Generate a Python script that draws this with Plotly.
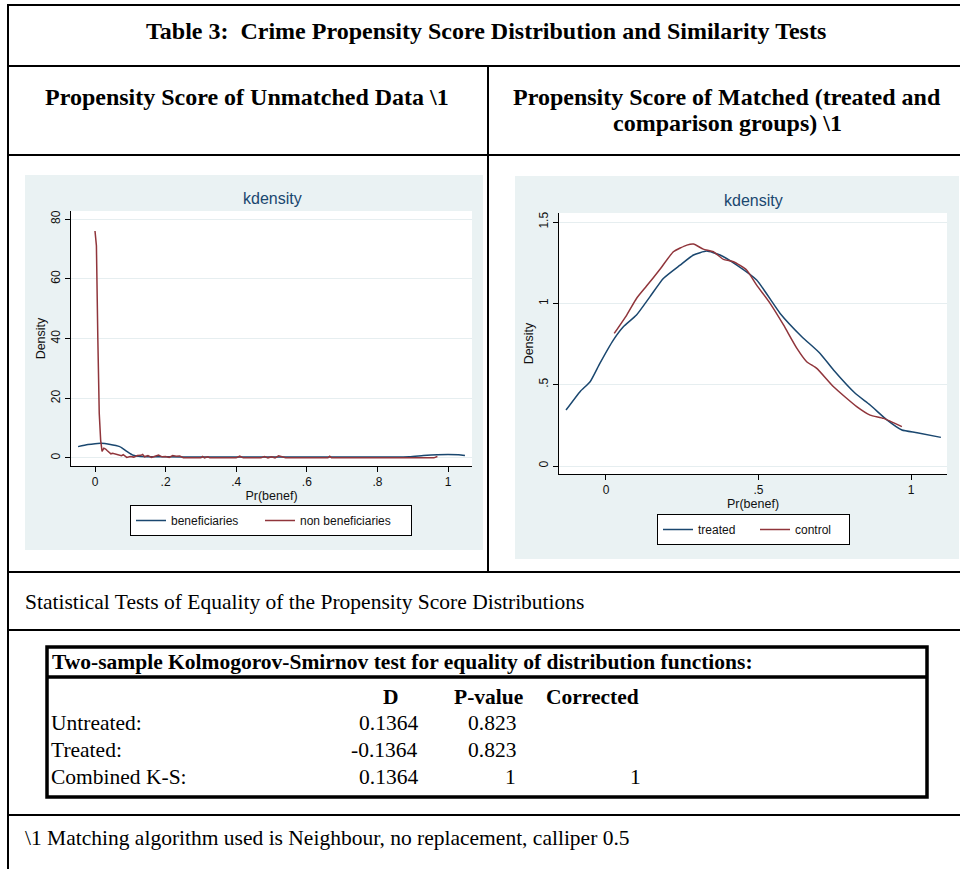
import plotly.graph_objects as go

W, H = 960, 869

# ---------------- data : unmatched sample (left panel) ----------------
benef_x = [-0.048, -0.02, 0.0, 0.017, 0.04, 0.07, 0.09, 0.108, 0.13, 0.2, 0.3, 0.4,
           0.5, 0.6, 0.7, 0.8, 0.89, 0.93, 0.97, 1.0, 1.03, 1.048]
benef_y = [3.8, 4.5, 4.8, 4.9, 4.6, 3.8, 2.2, 0.9, 0.5, 0.4, 0.35, 0.3,
           0.3, 0.3, 0.3, 0.3, 0.4, 0.8, 1.1, 1.2, 1.1, 0.8]

nonbenef_x = [0.0, 0.004, 0.008, 0.012, 0.016, 0.02, 0.025, 0.03, 0.035, 0.04, 0.045,
              0.05, 0.06, 0.07, 0.075, 0.08, 0.09, 0.1, 0.11, 0.12, 0.13, 0.135, 0.14,
              0.15, 0.16, 0.17, 0.18, 0.19, 0.2, 0.21, 0.22, 0.23, 0.24, 0.25, 0.3,
              0.305, 0.31, 0.32, 0.325, 0.4, 0.41, 0.42, 0.47, 0.48, 0.49, 0.5, 0.51,
              0.52, 0.53, 0.54, 0.66, 0.665, 0.67, 0.96, 0.97]
nonbenef_y = [76, 71, 40, 15, 6, 2.2, 3.3, 3.0, 2.4, 2.0, 1.4,
              1.6, 1.3, 1.2, 0.8, 1.1, 0.2, 0.5, 0.3, 0.8, 0.9, 1.2, 0.4,
              0.8, 0.2, 0.6, 1.0, 0.4, 0.5, 0.2, 0.8, 0.6, 0.7, 0.1, 0.05,
              0.5, 0.05, 0.4, 0.05, 0.05, 0.6, 0.05, 0.05, 0.5, 0.05, 0.4, 0.05,
              0.7, 0.5, 0.05, 0.05, 0.6, 0.05, 0.05, 0.5]

# ---------------- data : matched sample (right panel) ----------------
treated_x = [-0.131, -0.085, -0.052, -0.02, 0.024, 0.057, 0.1, 0.144, 0.188, 0.243,
             0.287, 0.33, 0.374, 0.429, 0.494, 0.571, 0.642, 0.702, 0.746, 0.817,
             0.866, 0.921, 0.970, 1.02, 1.098]
treated_y = [0.344, 0.457, 0.518, 0.631, 0.774, 0.856, 0.928, 1.04, 1.153, 1.235,
             1.297, 1.321, 1.297, 1.235, 1.143, 0.938, 0.795, 0.692, 0.59, 0.447,
             0.375, 0.283, 0.221, 0.205, 0.176]

control_x = [0.027, 0.068, 0.1, 0.133, 0.177, 0.221, 0.265, 0.287, 0.319, 0.352,
             0.385, 0.418, 0.461, 0.494, 0.538, 0.582, 0.626, 0.658, 0.691, 0.746,
             0.822, 0.866, 0.910, 0.97]
control_y = [0.815, 0.928, 1.03, 1.106, 1.209, 1.317, 1.358, 1.365, 1.333, 1.317,
             1.27, 1.256, 1.205, 1.112, 1.0, 0.867, 0.723, 0.641, 0.6, 0.487,
             0.365, 0.313, 0.293, 0.242]

# ---------------- tick labels ----------------
x1_ticks = [0, 0.2, 0.4, 0.6, 0.8, 1]
x1_labels = ['0', '.2', '.4', '.6', '.8', '1']
y1_ticks = [0, 20, 40, 60, 80]
y1_labels = ['0', '20', '40', '60', '80']
x2_ticks = [0, 0.5, 1]
x2_labels = ['0', '.5', '1']
y2_ticks = [0, 0.5, 1, 1.5]
y2_labels = ['0', '.5', '1', '1.5']

# ---------------- KS test table ----------------
ks_cols = ['D', 'P-value', 'Corrected']
ks_rows = ['Untreated:', 'Treated:', 'Combined K-S:']
ks_D = ['0.1364', '-0.1364', '0.1364']
ks_P = ['0.823', '0.823', '1']
ks_C = ['', '', '1']

# ---------------- styling ----------------
NAVY = '#1A476F'
MAROON = '#90353B'
PANEL = '#EAF2F3'
GRID = '#E6EEF0'
SANS = 'Liberation Sans, Arial, sans-serif'
SERIF = 'Liberation Serif, Times New Roman, serif'


def px(x):
    return x / W


def py(y):
    return 1 - y / H


fig = go.Figure()
fig.add_trace(go.Scatter(x=benef_x, y=benef_y, mode='lines', name='beneficiaries',
                         line=dict(color=NAVY, width=1.5, shape='spline', smoothing=0.6),
                         xaxis='x', yaxis='y', legend='legend', legendwidth=84))
fig.add_trace(go.Scatter(x=nonbenef_x, y=nonbenef_y, mode='lines', name='non beneficiaries',
                         line=dict(color=MAROON, width=1.5),
                         xaxis='x', yaxis='y', legend='legend', legendwidth=106))
fig.add_trace(go.Scatter(x=treated_x, y=treated_y, mode='lines', name='treated',
                         line=dict(color=NAVY, width=1.5, shape='spline', smoothing=0.5),
                         xaxis='x2', yaxis='y2', legend='legend2', legendwidth=52))
fig.add_trace(go.Scatter(x=control_x, y=control_y, mode='lines', name='control',
                         line=dict(color=MAROON, width=1.5, shape='spline', smoothing=0.5),
                         xaxis='x2', yaxis='y2', legend='legend2', legendwidth=49))

axis_base = dict(showline=True, linecolor='#000', linewidth=1, ticks='outside',
                 ticklen=5, tickwidth=1, tickcolor='#000', zeroline=False,
                 tickfont=dict(family=SANS, size=12, color='#111'))
title_font = dict(family=SANS, size=12.5, color='#111')

shapes = []
# panels
shapes.append(dict(type='rect', xref='paper', yref='paper', x0=px(25), x1=px(483),
                   y0=py(550), y1=py(175), fillcolor=PANEL, line=dict(width=0), layer='below'))
shapes.append(dict(type='rect', xref='paper', yref='paper', x0=px(515), x1=px(959),
                   y0=py(559), y1=py(176), fillcolor=PANEL, line=dict(width=0), layer='below'))
# plot regions
shapes.append(dict(type='rect', xref='paper', yref='paper', x0=px(71), x1=px(472),
                   y0=py(466), y1=py(211), fillcolor='white', line=dict(width=0), layer='below'))
shapes.append(dict(type='rect', xref='paper', yref='paper', x0=px(559), x1=px(947),
                   y0=py(474), y1=py(213), fillcolor='white', line=dict(width=0), layer='below'))


def hline(y, x0=8, x1=960, w=2):
    shapes.append(dict(type='line', xref='paper', yref='paper', x0=px(x0), x1=px(x1),
                       y0=py(y), y1=py(y), line=dict(color='#000', width=w)))


def vline(x, y0, y1, w=2):
    shapes.append(dict(type='line', xref='paper', yref='paper', x0=px(x), x1=px(x),
                       y0=py(y0), y1=py(y1), line=dict(color='#000', width=w)))


hline(5, 7)
vline(8, 5, 869)
hline(66)
hline(155)
vline(488, 66, 572)
hline(572)
hline(630)
hline(815)
# KS box
shapes.append(dict(type='rect', xref='paper', yref='paper', x0=px(47), x1=px(927),
                   y0=py(797), y1=py(647), line=dict(color='#000', width=3.5)))
hline(677, 47, 927, 3.5)

ann = []


def text(x, y, s, size=21.5, bold=False, xanchor='center', family=SERIF, color='#000'):
    ann.append(dict(xref='paper', yref='paper', x=px(x), y=py(y), text=('<b>%s</b>' % s) if bold else s,
                    showarrow=False, xanchor=xanchor, yanchor='middle',
                    font=dict(family=family, size=size, color=color)))


text(486, 31, 'Table 3:  Crime Propensity Score Distribution and Similarity Tests', 24, True)
text(247, 97, 'Propensity Score of Unmatched Data \\1', 24, True)
text(727, 97, 'Propensity Score of Matched (treated and', 24, True)
text(727, 123, 'comparison groups) \\1', 24, True)
text(272, 198, 'kdensity', 16, family=SANS, color=NAVY)
text(753, 201, 'kdensity', 16, family=SANS, color=NAVY)
text(23, 602, 'Statistical Tests of Equality of the Propensity Score Distributions', 21.5, xanchor='left')
text(50, 662, 'Two-sample Kolmogorov-Smirnov test for equality of distribution functions:', 21.5, True, 'left')
row_y = [723, 750, 777]
text(391, 697, ks_cols[0], 21.5, True)
text(488, 697, ks_cols[1], 21.5, True)
text(592, 697, ks_cols[2], 21.5, True)
for i, r in enumerate(ks_rows):
    text(49, row_y[i], r, 21.5, xanchor='left')
    text(420, row_y[i], ks_D[i], 21.5, xanchor='right')
    text(518, row_y[i], ks_P[i], 21.5, xanchor='right')
    if ks_C[i]:
        text(643, row_y[i], ks_C[i], 21.5, xanchor='right')
text(23, 838, '\\1 Matching algorithm used is Neighbour, no replacement, calliper 0.5', 21.5, xanchor='left')

legend_base = dict(orientation='h', bgcolor='white', bordercolor='#000', borderwidth=1,
                   font=dict(family=SANS, size=12, color='#111'), xanchor='left', yanchor='top',
                   itemwidth=30, tracegroupgap=0)

fig.update_layout(
    width=W, height=H, margin=dict(l=0, r=0, t=0, b=0),
    paper_bgcolor='white', plot_bgcolor='rgba(0,0,0,0)',
    showlegend=True,
    xaxis=dict(axis_base, domain=[px(71), px(472)], range=[-0.068, 1.068], anchor='y',
               tickvals=x1_ticks, ticktext=x1_labels, showgrid=False,
               title=dict(text='Pr(benef)', standoff=2, font=title_font)),
    yaxis=dict(axis_base, domain=[py(466), py(211)], range=[-2.68, 82.68], anchor='x',
               tickvals=y1_ticks, ticktext=y1_labels, tickangle=-90,
               showgrid=True, gridcolor=GRID, gridwidth=1,
               title=dict(text='Density', standoff=0, font=title_font)),
    xaxis2=dict(axis_base, domain=[px(559), px(947)], range=[-0.154, 1.118], anchor='y2',
                tickvals=x2_ticks, ticktext=x2_labels, showgrid=False,
                title=dict(text='Pr(benef)', standoff=2, font=title_font)),
    yaxis2=dict(axis_base, domain=[py(474), py(213)], range=[-0.0492, 1.5553], anchor='x2',
                tickvals=y2_ticks, ticktext=y2_labels, tickangle=-90,
                showgrid=True, gridcolor=GRID, gridwidth=1,
                title=dict(text='Density', standoff=0, font=title_font)),
    legend=dict(legend_base, x=px(130), y=py(505)),
    legend2=dict(legend_base, x=px(657), y=py(514)),
    shapes=shapes,
    annotations=ann,
)

fig.write_html("out.html", config={'displayModeBar': False},
               post_script="document.body.style.margin='0px';")
